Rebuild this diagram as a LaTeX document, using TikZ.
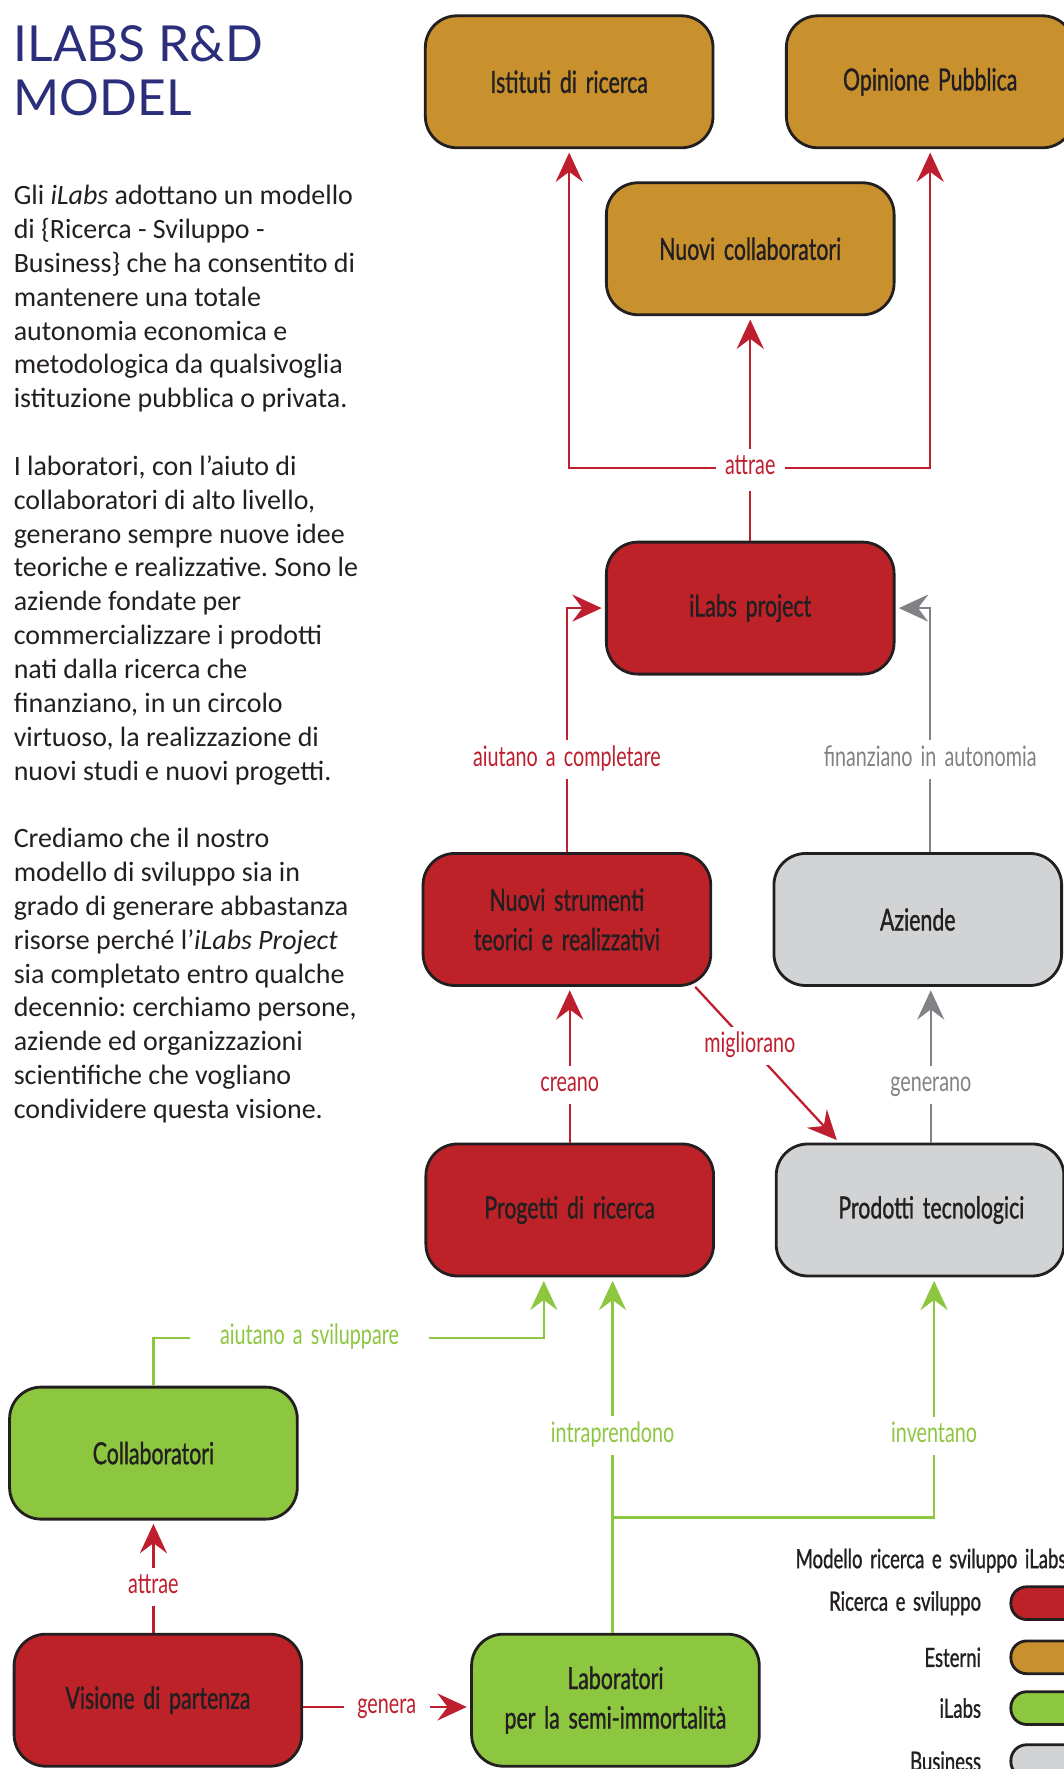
\documentclass[tikz,border=0pt]{standalone}
\usepackage{fontspec}
\setmainfont{Carlito}
\newfontfamily\gillfont[FakeStretch=0.7,WordSpace=1.6]{Lato}
\newfontfamily\gillbox[FakeStretch=0.7,WordSpace=1.6,FakeBold=1]{Lato}
\newfontfamily\titlefont{Lato}
\usepackage{tikz}
\usetikzlibrary{positioning,arrows.meta}

\definecolor{rdfill}{HTML}{BE2229}
\definecolor{gdfill}{HTML}{C8912E}
\definecolor{grfill}{HTML}{8DC63F}
\definecolor{bzfill}{HTML}{D1D3D4}
\definecolor{rdline}{HTML}{BE1E2D}
\definecolor{bzline}{HTML}{808285}
\definecolor{boxline}{HTML}{231F20}
\definecolor{navy}{HTML}{2B2E7A}

\begin{document}
\frenchspacing
\begin{tikzpicture}[x=1pt, y=-1pt,
  >={Stealth[length=26pt,width=24pt,inset=9pt]},
  box/.style = {shape=rectangle, rounded corners=28pt, draw=boxline,
    line width=2.5pt, align=center, minimum width=255pt, minimum height=117pt,
    text=boxline, font=\gillbox\fontsize{27}{35}\selectfont},
  ricerca/.style = {box, fill=rdfill},
  esterni/.style = {box, fill=gdfill},
  ilabs/.style = {box, fill=grfill},
  business/.style = {box, fill=bzfill},
  link/.style = {line width=2pt, shorten >=3pt},
  rlink/.style = {link, draw=rdline},
  blink/.style = {link, draw=bzline},
  glink/.style = {link, draw=grfill},
  verb/.style = {fill=white, inner xsep=10pt, inner ysep=5pt, text height=18pt, text depth=6pt,
    font=\gillfont\fontsize{25}{30}\selectfont},
  rverb/.style = {verb, text=rdline},
  bverb/.style = {verb, text=bzline},
  gverb/.style = {verb, text=grfill},
  pill/.style = {shape=rectangle, rounded corners=14pt, draw=boxline,
    line width=2.5pt, minimum width=70pt, minimum height=29pt},
  legtext/.style = {inner sep=0pt, text=boxline, font=\gillbox\fontsize{23.5}{28}\selectfont}]
  \useasboundingbox (0,0) rectangle (943,1568);

  % titolo e testo
  \node[anchor=north west, inner sep=0pt, align=left, text=navy,
    font=\titlefont\fontsize{44}{48}\selectfont] (title) at (12,22) {ILABS R\&D\\MODEL};
  \node[anchor=north west, inner sep=0pt, align=left, text=boxline,
    font=\fontsize{24.8}{30}\selectfont] (intro) at (12,164) {Gli \emph{iLabs} adottano un modello\\
    di \{Ricerca - Sviluppo -\\
    Business\} che ha consentito di\\
    mantenere una totale\\
    autonomia economica e\\
    metodologica da qualsivoglia\\
    istituzione pubblica o privata.\\[30pt]
    I laboratori, con l’aiuto di\\
    collaboratori di alto livello,\\
    generano sempre nuove idee\\
    teoriche e realizzative. Sono le\\
    aziende fondate per\\
    commercializzare i prodotti\\
    nati dalla ricerca che\\
    finanziano, in un circolo\\
    virtuoso, la realizzazione di\\
    nuovi studi e nuovi progetti.\\[30pt]
    Crediamo che il nostro\\
    modello di sviluppo sia in\\
    grado di generare abbastanza\\
    risorse perché l’\emph{iLabs Project}\\
    sia completato entro qualche\\
    decennio: cerchiamo persone,\\
    aziende ed organizzazioni\\
    scientifiche che vogliano\\
    condividere questa visione.};

  % nodi
  \node[esterni] (istituti) at (504.5,72.5) {Istituti di ricerca};
  \node[esterni] (opinione) at (824.5,72.5) {Opinione Pubblica};
  \node[esterni] (nuovicoll) at (665,220.5) {Nuovi collaboratori};
  \node[ricerca] (project) at (665,539) {iLabs project};
  \node[ricerca] (strumenti) at (502.5,815) {Nuovi strumenti\\teorici e realizzativi};
  \node[business] (aziende) at (813.5,815) {Aziende};
  \node[ricerca] (progetti) at (505,1072.5) {Progetti di ricerca};
  \node[business] (prodotti) at (815.5,1072.5) {\hspace*{20pt}Prodotti tecnologici};
  \node[ilabs] (collab) at (136,1288) {Collaboratori};
  \node[ricerca] (visione) at (140,1507) {Visione di partenza};
  \node[ilabs] (laboratori) at (545.5,1507) {Laboratori\\per la semi-immortalità};

  % connettori
  \node[rverb, inner xsep=8pt] (attrae) at (665,415) {attrae};
  \draw[rlink] (project.north) -- (attrae.south);
  \draw[rlink,->] (attrae.north) -- (nuovicoll.south);
  \draw[rlink,->] (attrae.west) -| (istituti.south);
  \draw[rlink,->] (attrae.east) -| (opinione.south);
  \draw[rlink,->] (strumenti.north) |- node[rverb, pos=0.19] {aiutano a completare} (project.west);
  \draw[blink,->] ([xshift=11pt]aziende.north) |- node[bverb, pos=0.19] {finanziano in autonomia} (project.east);
  \draw[rlink,->] (progetti.north) -- node[rverb, pos=0.37] {creano} (progetti.north |- strumenti.south);
  \draw[rlink,->] ([xshift=-15pt]strumenti.south east) -- node[rverb, pos=0.38] {migliorano} ([xshift=57pt]prodotti.north west);
  \draw[blink,->] ([xshift=9.5pt]prodotti.north) -- node[bverb, pos=0.37] {generano} ([xshift=11.5pt]aziende.south);
  \coordinate (svbend) at (482,1186);
  \draw[glink,->] (collab.north) |- node[gverb, inner xsep=27pt, pos=0.7] {aiutano a sviluppare} (svbend) -- (svbend |- progetti.south);
  \draw[glink,->] ([xshift=-2.5pt]laboratori.north) -- node[gverb, pos=0.555] {intraprendono} ([xshift=38pt]progetti.south);
  \coordinate (invbranch) at (543,1345);
  \draw[glink,->] (invbranch) -| node[gverb, pos=0.67] {inventano} ([xshift=12.5pt]prodotti.south);
  \draw[rlink,->] ([xshift=-4pt]visione.north) -- node[rverb, pos=0.41] {attrae} (collab.south);
  \draw[rlink,->] ([yshift=-6pt]visione.east) -- node[rverb, inner xsep=12pt] {genera} ([yshift=-6pt]laboratori.west);

  % legenda
  \node[legtext, anchor=base west] (legtitle) at (705,1390) {Modello ricerca e sviluppo iLabs};
  \node[pill, fill=rdfill] (legR) at (931,1421) {};
  \node[pill, fill=gdfill] (legE) at (931,1469) {};
  \node[pill, fill=grfill] (legI) at (931,1514) {};
  \node[pill, fill=bzfill] (legB) at (931,1561) {};
  \node[legtext, left=25pt of legR] (legRt) {Ricerca e sviluppo};
  \node[legtext, left=25pt of legE] (legEt) {Esterni};
  \node[legtext, left=25pt of legI] (legIt) {iLabs};
  \node[legtext, left=25pt of legB] (legBt) {Business};
\end{tikzpicture}
\end{document}
